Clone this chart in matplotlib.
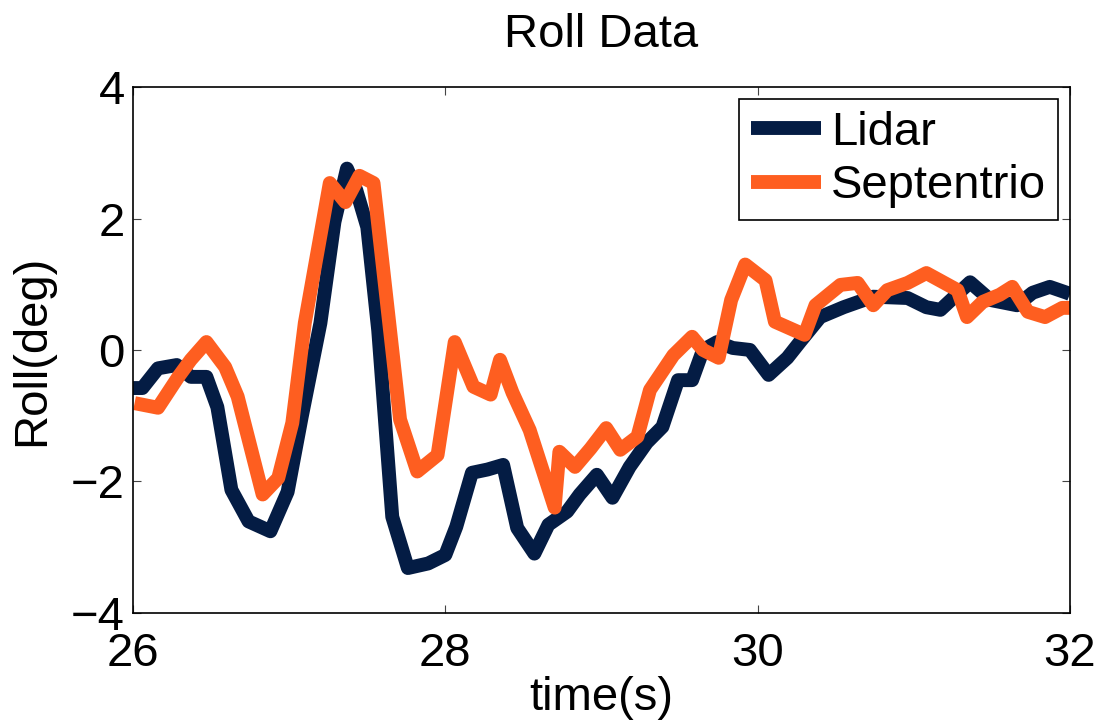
import matplotlib
matplotlib.use("Agg")
import matplotlib.pyplot as plt

plt.rcParams['font.family'] = ['Liberation Sans', 'DejaVu Sans']

lidar_t = [26.00, 26.06, 26.16, 26.28, 26.37, 26.47, 26.54, 26.63, 26.74, 26.88,
           26.99, 27.08, 27.20, 27.29, 27.37, 27.43, 27.50, 27.57, 27.66, 27.76,
           27.89, 28.00, 28.07, 28.17, 28.27, 28.37, 28.46, 28.57, 28.66, 28.78,
           28.86, 28.97, 29.07, 29.18, 29.29, 29.39, 29.49, 29.58, 29.65, 29.74,
           29.84, 29.95, 30.07, 30.19, 30.27, 30.40, 30.55, 30.74, 30.96, 31.08,
           31.17, 31.36, 31.49, 31.66, 31.76, 31.87, 31.98, 32.0]
lidar_roll = [-0.58, -0.58, -0.28, -0.23, -0.41, -0.41, -0.87, -2.13, -2.61, -2.76,
              -2.16, -1.02, 0.41, 1.95, 2.76, 2.43, 1.87, 0.30, -2.54, -3.32,
              -3.25, -3.12, -2.69, -1.87, -1.82, -1.75, -2.71, -3.1, -2.66, -2.46,
              -2.20, -1.90, -2.25, -1.78, -1.41, -1.17, -0.46, -0.46, 0.0, 0.12,
              0.03, 0.0, -0.38, -0.12, 0.12, 0.50, 0.65, 0.81, 0.79, 0.65,
              0.61, 1.03, 0.76, 0.68, 0.87, 0.96, 0.87, 0.85]

sept_t = [26.01, 26.16, 26.29, 26.37, 26.47, 26.59, 26.67, 26.83, 26.93, 27.02,
          27.10, 27.26, 27.36, 27.45, 27.54, 27.71, 27.82, 27.95, 28.06, 28.18,
          28.29, 28.35, 28.43, 28.54, 28.70, 28.73, 28.83, 28.93, 29.03, 29.12,
          29.23, 29.31, 29.46, 29.58, 29.65, 29.75, 29.83, 29.92, 30.05, 30.11,
          30.30, 30.37, 30.53, 30.64, 30.74, 30.83, 30.96, 31.08, 31.28, 31.34,
          31.44, 31.55, 31.63, 31.73, 31.84, 31.95, 32.0]
sept_roll = [-0.81, -0.88, -0.41, -0.15, 0.12, -0.26, -0.71, -2.2, -1.95, -1.11,
             0.41, 2.54, 2.25, 2.65, 2.54, -1.06, -1.85, -1.60, 0.12, -0.56,
             -0.68, -0.15, -0.65, -1.22, -2.4, -1.55, -1.78, -1.50, -1.19, -1.52,
             -1.32, -0.61, -0.08, 0.20, 0.0, -0.12, 0.76, 1.3, 1.06, 0.43,
             0.23, 0.68, 0.99, 1.02, 0.68, 0.91, 1.02, 1.17, 0.91, 0.50,
             0.73, 0.84, 0.96, 0.58, 0.50, 0.64, 0.64]

xticks = [26, 28, 30, 32]
yticks = [-4, -2, 0, 2, 4]

fig = plt.figure(figsize=(11.02, 7.23), dpi=100)
ax = fig.add_axes([0.1207, 0.1525, 0.8503, 0.727])

ax.plot(lidar_t, lidar_roll, color='#041c44', lw=10, solid_joinstyle='round',
        solid_capstyle='butt', label='Lidar')
ax.plot(sept_t, sept_roll, color='#fe5e20', lw=10, solid_joinstyle='round',
        solid_capstyle='butt', label='Septentrio')

ax.set_xlim(26, 32)
ax.set_ylim(-4, 4)
ax.set_xticks(xticks)
ax.set_yticks(yticks)
ax.tick_params(direction='in', length=6, width=0.8, labelsize=34,
               top=True, right=True, color='#444444')
ax.tick_params(axis='x', pad=14)
ax.tick_params(axis='y', pad=6)
for s in ax.spines.values():
    s.set_linewidth(1.2)

ax.set_title('Roll Data', fontsize=34, pad=29)
ax.set_xlabel('time(s)', fontsize=34, labelpad=0)
ax.set_ylabel('Roll(deg)', fontsize=34, labelpad=12)

leg = ax.legend(loc='upper right', bbox_to_anchor=(0.987, 0.977), borderaxespad=0,
                fontsize=34, fancybox=False, framealpha=1, edgecolor='black',
                handlelength=1.5, handletextpad=0.2, labelspacing=0.2,
                borderpad=0.25)
leg.get_frame().set_linewidth(1.2)

fig.savefig('out.png', dpi=100)
